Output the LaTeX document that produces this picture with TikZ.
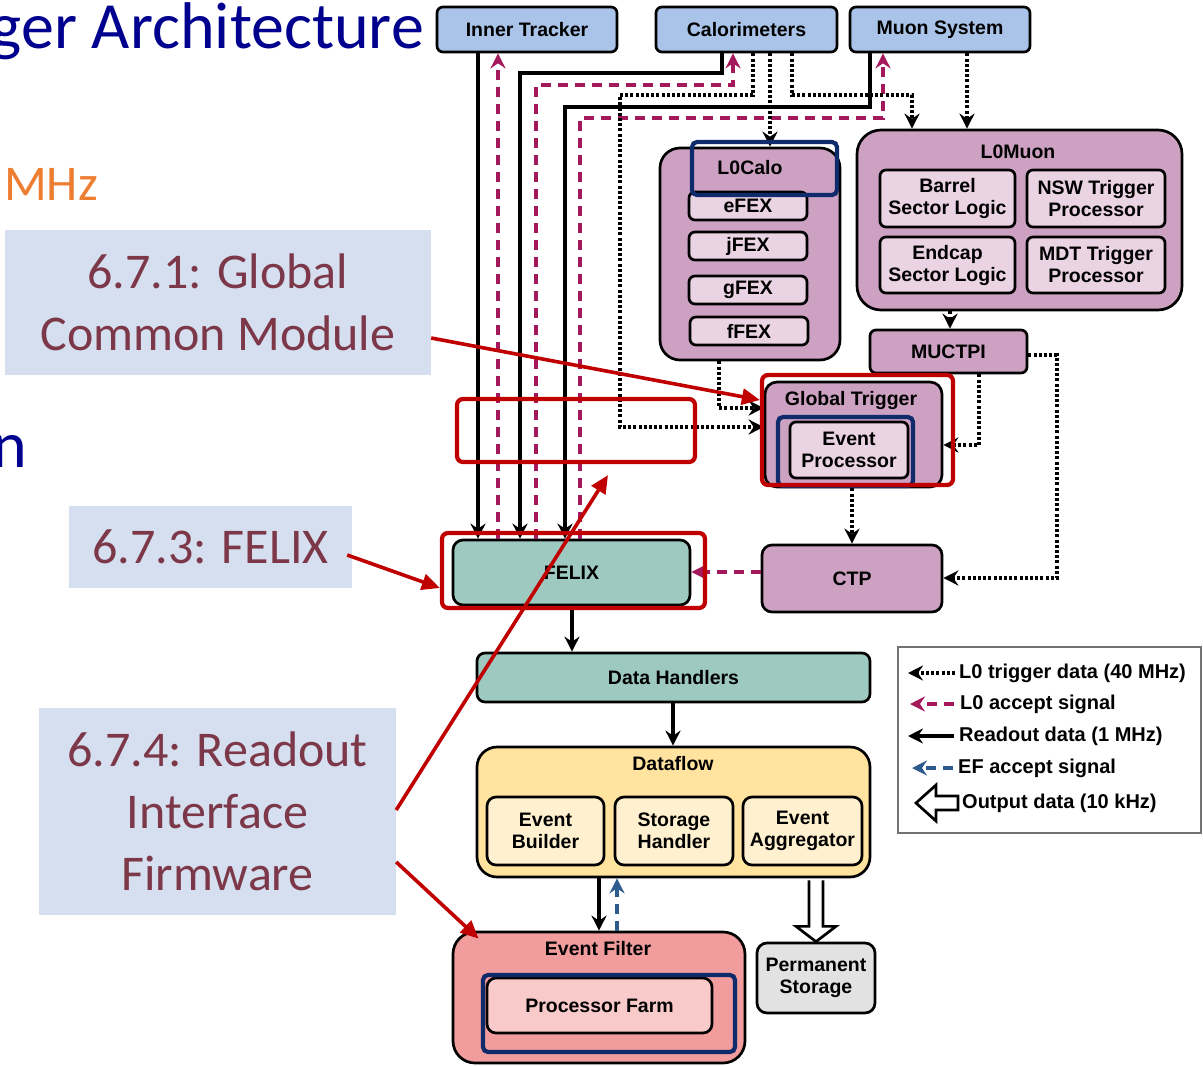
\documentclass[tikz,border=0pt]{standalone}
\usepackage{fontspec}
\setmainfont{Liberation Sans}
\newfontfamily\slidefont{Carlito}
\usetikzlibrary{arrows.meta,calc}

\definecolor{srcblue}{HTML}{A9C4E8}
\definecolor{mauve}{HTML}{CDA1C2}
\definecolor{mauvelt}{HTML}{EAD3E3}
\definecolor{tealbox}{HTML}{9DC9C1}
\definecolor{dfyel}{HTML}{FFE39E}
\definecolor{dfyellt}{HTML}{FFF1CF}
\definecolor{efred}{HTML}{F19D9D}
\definecolor{efredlt}{HTML}{F8CACA}
\definecolor{storgray}{HTML}{E2E2E2}
\definecolor{accpink}{HTML}{A3195B}
\definecolor{efblue}{HTML}{2E5B8E}
\definecolor{hlred}{HTML}{C00000}
\definecolor{hlnavy}{HTML}{0F2B6B}
\definecolor{tagfill}{HTML}{D5DFEF}
\definecolor{tagtext}{HTML}{7C3848}
\definecolor{titleblue}{HTML}{00008E}
\definecolor{rateorange}{HTML}{ED7D31}

\newcommand\diafont{\bfseries\fontsize{19.5}{22}\selectfont}
\newcommand\legfont{\bfseries\fontsize{20}{22}\selectfont}
\newcommand\tagfont{\slidefont\fontsize{50}{62}\selectfont}

\begin{document}
\begin{tikzpicture}[x=1pt,y=-1pt,
  box/.style={draw=black, line width=2.7pt, rounded corners=6pt, inner sep=0pt,
              align=center, font=\diafont},
  srcbox/.style={box, fill=srcblue},
  trgbox/.style={box, fill=mauve},
  trgsub/.style={box, fill=mauvelt},
  rdbox/.style={box, fill=tealbox},
  dfbox/.style={box, fill=dfyel},
  dfsub/.style={box, fill=dfyellt},
  efbox/.style={box, fill=efred},
  efsub/.style={box, fill=efredlt},
  stbox/.style={box, fill=storgray},
  boxtitle/.style={font=\diafont, inner sep=0pt},
  arrowend/.style={-{Stealth[length=15pt,width=15pt,inset=5pt]}},
  readout/.style={draw=black, line width=3.1pt, arrowend},
  l0acc/.style={draw=accpink, line width=3.1pt, dash pattern=on 10pt off 7pt, arrowend},
  l0trg/.style={draw=black, line width=3.1pt, dash pattern=on 3pt off 2.2pt, arrowend},
  efacc/.style={draw=efblue, line width=3.1pt, dash pattern=on 10pt off 7pt, arrowend},
  outarrow/.style={draw=black, line width=2.7pt, fill=white, line join=miter},
  hlbox/.style={draw=hlred, line width=4.2pt, rounded corners=6pt, inner sep=0pt},
  navybox/.style={draw=hlnavy, line width=4.2pt, rounded corners=5pt, inner sep=0pt},
  callout/.style={draw=hlred, line width=3.6pt, -{Triangle[length=18pt,width=16pt]}},
  secttag/.style={fill=tagfill, text=tagtext, font=\tagfont, align=center, inner sep=0pt},
  legtext/.style={font=\legfont, inner sep=0pt, anchor=west},
]
\useasboundingbox (0,0) rectangle (1203,1066);

% ---- slide text behind the diagram ----
\node[font=\slidefont\fontsize{66}{70}\selectfont, text=titleblue, anchor=base east, inner sep=0pt]
  (ttl) at (424,48) {ger Architecture};
\node[font=\slidefont\fontsize{50}{60}\selectfont, text=rateorange, anchor=base west, inner sep=0pt]
  (rate) at (4,200) {MHz};
\node[font=\slidefont\fontsize{66}{70}\selectfont, text=titleblue, anchor=base west, inner sep=0pt]
  (ttl2) at (-8,467) {n};

% ---- detector sources ----
\node[srcbox, minimum width=180, minimum height=45] (it)  at (527,29.5)   {Inner Tracker};
\node[srcbox, minimum width=181, minimum height=45] (cal) at (746.5,29.5) {Calorimeters};
\node[srcbox, minimum width=180, minimum height=45] (mu)  at (940,29.5)   {Muon System};

% ---- L0Calo ----
\node[trgbox, rounded corners=20pt, minimum width=180, minimum height=212] (l0calo) at (750,254) {};
\node[boxtitle] (l0calot) at (750,168) {L0Calo};
\node[trgsub, minimum width=118, minimum height=28] (efex) at (748,206) {eFEX};
\node[trgsub, minimum width=118, minimum height=28] (jfex) at (748,246) {jFEX};
\node[trgsub, minimum width=118, minimum height=28] (gfex) at (748,290) {gFEX};
\node[trgsub, minimum width=118, minimum height=28] (ffex) at (749,331) {fFEX};

% ---- L0Muon ----
\node[trgbox, rounded corners=24pt, minimum width=325, minimum height=180] (l0muon) at (1019.5,220) {};
\node[boxtitle] (l0muont) at (1018,152) {L0Muon};
\node[trgsub, minimum width=135, minimum height=57] (bsl) at (947.5,198.5) {Barrel\\Sector Logic};
\node[trgsub, minimum width=138, minimum height=57] (nsw) at (1096,198.5)  {NSW Trigger\\Processor};
\node[trgsub, minimum width=135, minimum height=56] (esl) at (947.5,265)   {Endcap\\Sector Logic};
\node[trgsub, minimum width=138, minimum height=56] (mdt) at (1096,265)    {MDT Trigger\\Processor};
\node[trgbox, minimum width=157, minimum height=43] (muctpi) at (948.5,351.5) {MUCTPI};

% ---- Global Trigger and CTP ----
\node[trgbox, rounded corners=12pt, minimum width=177, minimum height=105] (gt) at (853.5,434.5) {};
\node[boxtitle] (gtt) at (851,400) {Global Trigger};
\node[trgsub, minimum width=118, minimum height=56] (ep) at (849,450) {Event\\Processor};
\node[trgbox, rounded corners=10pt, minimum width=180, minimum height=67] (ctp) at (852,578.5) {CTP};

% ---- readout chain ----
\node[rdbox, rounded corners=10pt, minimum width=237, minimum height=65] (felix) at (571.5,572.5) {FELIX};
\node[rdbox, rounded corners=8pt, minimum width=393, minimum height=49] (dh) at (673.5,677.5) {Data Handlers};
\node[dfbox, rounded corners=20pt, minimum width=393, minimum height=130] (df) at (673.5,812) {};
\node[boxtitle] (dft) at (673,764) {Dataflow};
\node[dfsub, rounded corners=9pt, minimum width=117, minimum height=68] (eb) at (545.5,831) {Event\\Builder};
\node[dfsub, rounded corners=9pt, minimum width=118, minimum height=68] (sh) at (674,831)   {Storage\\Handler};
\node[dfsub, rounded corners=9pt, minimum width=119, minimum height=68] (ea) at (802.5,831) {Event\\Aggregator};
\node[efbox, rounded corners=22pt, minimum width=292, minimum height=131] (ef) at (599,997.5) {};
\node[boxtitle] (eft) at (598,949) {Event Filter};
\node[efsub, rounded corners=9pt, minimum width=225, minimum height=55] (pf) at (599.5,1005.5) {Processor Farm};
\node[stbox, rounded corners=10pt, minimum width=118, minimum height=70] (ps) at (816,978) {Permanent\\Storage};

% ---- readout data (solid) ----
\draw[readout] (it.south -| 478,0) -- (felix.north -| 478,0);
\draw[readout] (cal.south -| 722,0) -- (722,73) -- (520,73) -- (felix.north -| 520,0);
\draw[readout] (mu.south -| 870,0) -- (870,107) -- (565,107) -- (felix.north -| 565,0);
\draw[readout] (felix.south -| 572,0) -- (dh.north -| 572,0);
\draw[readout] (dh.south -| 673,0) -- (df.north -| 673,0);
\draw[readout] (df.south -| 599,0) -- (ef.north -| 599,0);

% ---- L0 accept (dashed) ----
\draw[l0acc] (felix.north -| 498,0) -- (it.south -| 498,0);
\draw[l0acc] (felix.north -| 536,0) -- (536,85) -- (733,85) -- (cal.south -| 733,0);
\draw[l0acc] (felix.north -| 580,0) -- (580,118) -- (883,118) -- (mu.south -| 883,0);
\draw[l0acc] (ctp.west |- 0,572) -- (felix.east |- 0,572);

% ---- EF accept ----
\draw[efacc] (ef.north -| 617,0) -- (df.south -| 617,0);

% ---- L0 trigger data (dotted) ----
\draw[l0trg] (cal.south -| 753,0) -- (753,95) -- (620,95) -- (620,427) -- (gt.west |- 0,427);
\draw[l0trg] (cal.south -| 770,0) -- (l0calo.north -| 770,0);
\draw[l0trg] (cal.south -| 792,0) -- (792,95) -- (912,95) -- (l0muon.north -| 912,0);
\draw[l0trg] (mu.south -| 967,0) -- (l0muon.north -| 967,0);
\draw[l0trg] (l0calo.south -| 719,0) -- (719,408) -- (gt.west |- 0,408);
\draw[l0trg] (l0muon.south -| 950,0) -- (muctpi.north -| 950,0);
\draw[l0trg] (muctpi.south -| 979,0) -- (979,445) -- (gt.east |- 0,445);
\draw[l0trg] (muctpi.east |- 0,355) -- (1057,355) -- (1057,578) -- (ctp.east |- 0,578);
\draw[l0trg] (gt.south -| 852,0) -- (ctp.north -| 852,0);

% ---- output data (hollow arrow) ----
\coordinate (oa) at (df.south -| ps.north);
\draw[outarrow] ($(oa)+(-7,2)$) -- ($(oa)+(-7,48)$) -- ($(oa)+(-20,48)$) -- (ps.north)
  -- ($(oa)+(20,48)$) -- ($(oa)+(7,48)$) -- ($(oa)+(7,2)$);

% ---- legend ----
\draw[draw=black!55, line width=1.3pt] (898,647) rectangle (1201,833);
\node[legtext] (lg1) at (959,673) {L0 trigger data (40 MHz)};
\node[legtext] (lg2) at (960,704) {L0 accept signal};
\node[legtext] (lg3) at (959,736) {Readout data (1 MHz)};
\node[legtext] (lg4) at (958,768) {EF accept signal};
\node[legtext] (lg5) at (962,803) {Output data (10 kHz)};
\draw[l0trg] ($(lg1.west)+(-4,0)$) -- (lg1.west -| 908,0);
\draw[l0acc] ($(lg2.west)+(-6,0)$) -- (lg2.west -| 910,0);
\draw[readout] ($(lg3.west)+(-5,0)$) -- (lg3.west -| 908,0);
\draw[efacc] ($(lg4.west)+(-5,0)$) -- (lg4.west -| 912,0);
\draw[outarrow] ($(lg5.west)+(-4,-7)$) -- (936,796) -- (936,785) -- (916,803) -- (936,821)
  -- (936,810) -- ($(lg5.west)+(-4,7)$) -- cycle;

% ---- highlight frames ----
\node[navybox, minimum width=145, minimum height=53] (hlcalo) at (764.5,168.5) {};
\node[navybox, minimum width=135, minimum height=69] (hlep) at (845.5,451.5) {};
\node[navybox, minimum width=252, minimum height=77] (hlpf) at (609,1013.5) {};
\node[hlbox, minimum width=191, minimum height=110] (hlgt) at (857.5,430) {};
\node[hlbox, minimum width=263, minimum height=75] (hlfelix) at (573.5,570.5) {};
\node[hlbox, minimum width=238, minimum height=63] (hlfw) at (576,430.5) {};

% ---- section tags ----
\node[secttag, minimum width=426, minimum height=145] (tag1) at (218,302.5) {6.7.1: Global\\Common Module};
\node[secttag, minimum width=283, minimum height=82] (tag3) at (210.5,547) {6.7.3: FELIX};
\node[secttag, minimum width=357, minimum height=207] (tag4) at (217.5,811.5) {6.7.4: Readout\\Interface\\Firmware};

\draw[callout] (tag1.east |- 0,338) -- (hlgt.west |- 0,400);
\draw[callout] ($(tag3.east |- 0,555)+(-5,0)$) -- (hlfelix.west |- 0,588);
\draw[callout] (tag4.east |- 0,810) -- ($(hlfw.south)+(32,11)$);
\draw[callout] (tag4.east |- 0,862) -- ($(ef.north west)+(27,8)$);
\end{tikzpicture}
\end{document}
